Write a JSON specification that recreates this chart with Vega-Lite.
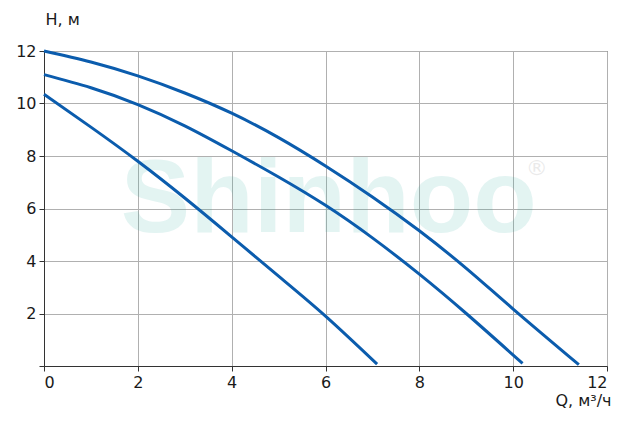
{
  "$schema": "https://vega.github.io/schema/vega-lite/v6.json",
  "width": 563,
  "height": 315,
  "autosize": "none",
  "padding": {"left": 44, "top": 51, "right": 28, "bottom": 60},
  "background": "white",
  "config": {
    "view": {"stroke": "#333333", "strokeWidth": 1},
    "font": "DejaVu Sans",
    "axis": {
      "grid": true,
      "domainColor": "#333333",
      "domainWidth": 1,
      "tickColor": "#333333",
      "tickSize": 5,
      "gridColor": "#b0b0b0",
      "gridWidth": 1,
      "labelFont": "DejaVu Sans",
      "labelFontSize": 16,
      "labelColor": "#1a1a1a",
      "labelPadding": 3,
      "titleFont": "DejaVu Sans",
      "titleFontSize": 16,
      "titleFontWeight": "normal",
      "titleColor": "#1a1a1a"
    }
  },
  "encoding": {
    "x": {
      "type": "quantitative",
      "scale": {"domain": [0, 12], "nice": false, "zero": false},
      "axis": {"grid": true, "values": [0, 2, 4, 6, 8, 10, 12], "title": "Q, м³/ч", "titleAlign": "right", "titleAnchor": null, "titleX": 567, "titleY": 39, "titleBaseline": "alphabetic"}
    },
    "y": {
      "type": "quantitative",
      "scale": {"domain": [0, 12], "nice": false, "zero": false},
      "axis": {"grid": true, "values": [0, 2, 4, 6, 8, 10, 12], "labelExpr": "datum.value == 0 ? '' : datum.label", "title": "H, м", "titleAngle": 0, "titleAlign": "left", "titleAnchor": null, "titleX": 1, "titleY": -27, "titleBaseline": "alphabetic"}
    }
  },
  "layer": [
    {
      "data": {"values": [
        {"curve": "A", "q": 0, "h": 12.0},
        {"curve": "A", "q": 1, "h": 11.58},
        {"curve": "A", "q": 2, "h": 11.05},
        {"curve": "A", "q": 3, "h": 10.4},
        {"curve": "A", "q": 4, "h": 9.63},
        {"curve": "A", "q": 5, "h": 8.7},
        {"curve": "A", "q": 6, "h": 7.62},
        {"curve": "A", "q": 7, "h": 6.44},
        {"curve": "A", "q": 8, "h": 5.15},
        {"curve": "A", "q": 9, "h": 3.72},
        {"curve": "A", "q": 10, "h": 2.17},
        {"curve": "A", "q": 11.4, "h": 0.05},
        {"curve": "B", "q": 0, "h": 11.1},
        {"curve": "B", "q": 1, "h": 10.6},
        {"curve": "B", "q": 2, "h": 9.96},
        {"curve": "B", "q": 3, "h": 9.15},
        {"curve": "B", "q": 4, "h": 8.2},
        {"curve": "B", "q": 5, "h": 7.2},
        {"curve": "B", "q": 6, "h": 6.12},
        {"curve": "B", "q": 7, "h": 4.88},
        {"curve": "B", "q": 8, "h": 3.5},
        {"curve": "B", "q": 9, "h": 2.0},
        {"curve": "B", "q": 10.2, "h": 0.1},
        {"curve": "C", "q": 0, "h": 10.35},
        {"curve": "C", "q": 1, "h": 9.1},
        {"curve": "C", "q": 2, "h": 7.8},
        {"curve": "C", "q": 3, "h": 6.4},
        {"curve": "C", "q": 4, "h": 4.92},
        {"curve": "C", "q": 5, "h": 3.42},
        {"curve": "C", "q": 6, "h": 1.9},
        {"curve": "C", "q": 7.1, "h": 0.07}
      ]},
      "layer": [
        {
          "data": {"values": [{"label": "Shinhoo"}]},
          "mark": {"type": "text", "font": "Liberation Sans", "fontWeight": "bold", "fontSize": 104, "color": "#1fa89a", "opacity": 0.12, "baseline": "middle", "align": "center"},
          "encoding": {
            "x": {"datum": 6.07},
            "y": {"datum": 6.3},
            "text": {"field": "label"}
          }
        },
        {
          "data": {"values": [{"label": "®"}]},
          "mark": {"type": "text", "font": "DejaVu Sans", "fontSize": 22, "color": "#000000", "opacity": 0.08, "baseline": "middle", "align": "center"},
          "encoding": {
            "x": {"datum": 10.5},
            "y": {"datum": 7.55},
            "text": {"field": "label"}
          }
        },
        {
          "mark": {"type": "line", "color": "#0b5cad", "strokeWidth": 3, "interpolate": "natural"},
          "encoding": {
            "x": {"field": "q"},
            "y": {"field": "h"},
            "detail": {"field": "curve"}
          }
        }
      ]
    }
  ]
}
